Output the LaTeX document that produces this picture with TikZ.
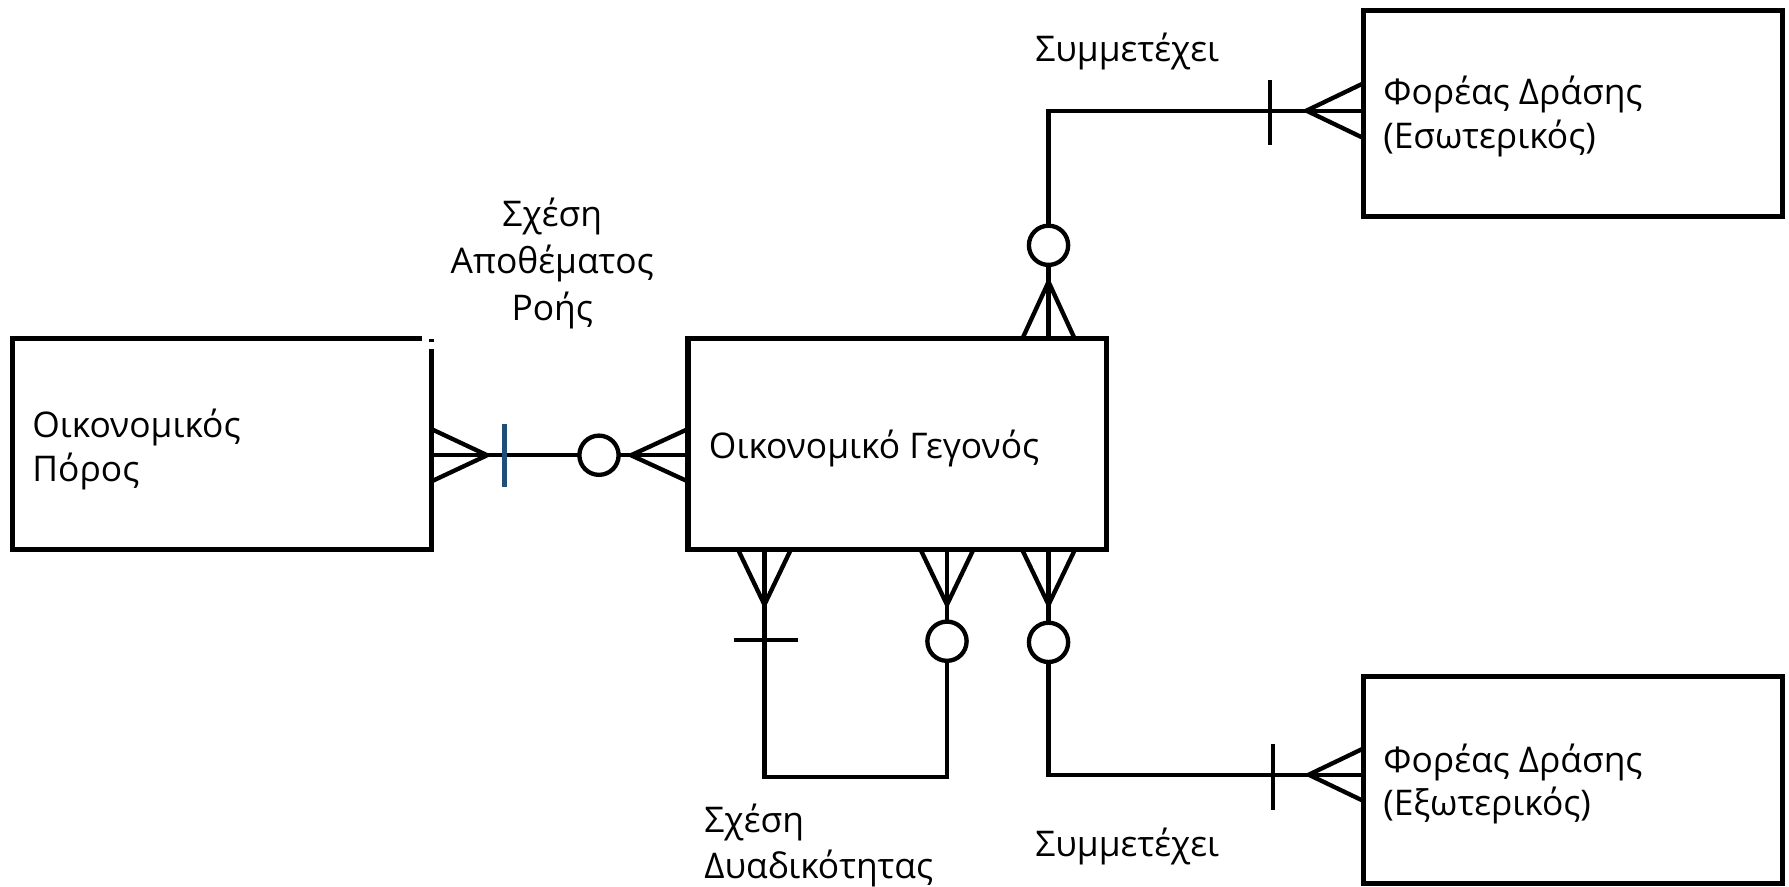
\documentclass[tikz,border=0pt]{standalone}
\usepackage{fontspec}
\setmainfont{Open Sans}
\usetikzlibrary{calc}
\definecolor{barblue}{RGB}{31,78,121}
\begin{document}
\begin{tikzpicture}[x=0.5pt,y=-0.5pt,
  entity/.style={draw, line width=2.2pt, minimum width=183.5pt, minimum height=92.5pt, inner sep=0pt, outer sep=0pt},
  edge/.style={line width=2.2pt, line cap=butt, line join=miter},
  txt/.style={font=\fontsize{15.5}{19}\selectfont, inner sep=0pt, align=left, anchor=west},
  lbl/.style={font=\fontsize{15.5}{20.5}\selectfont, inner sep=0pt},
  conn/.style={line width=1.9pt, line cap=butt, line join=miter},
  ring/.style={line width=1.9pt, fill=white},
  bluebar/.style={line width=2pt, draw=barblue}]
\useasboundingbox (0,0) rectangle (1568,777);

% entities
\node[entity, draw=none] (pool) at (194.5,389.5) {};
\draw[edge] ($(pool.north east)+(-8,0)$) -- (pool.north west) -- (pool.south west) -- (pool.south east) -- ($(pool.north east)+(0,9)$);
\draw[edge] (pool.north east) -- ($(pool.north east)+(0,3)$);
\node[entity] (event) at (786.5,389.5) {};
\node[entity, minimum height=90.5pt] (intA) at (1378.5,99.5) {};
\node[entity, minimum height=90.5pt] (extA) at (1378.5,683.5) {};

\node[txt] (poolT) at (28,394) {Οικονομικός\\Πόρος};
\node[txt] (eventT) at (621,393) {Οικονομικό Γεγονός};
\node[txt] (intAT) at (1212,102) {Φορέας Δράσης\\(Εσωτερικός)};
\node[txt] (extAT) at (1212,687) {Φορέας Δράσης\\(Εξωτερικός)};

% labels
\node[lbl, align=center] (l1) at (484,231) {Σχέση\\Αποθέματος\\Ροής};
\node[lbl] (l2) at (988,45) {Συμμετέχει};
\node[lbl, align=left, anchor=west] (l3) at (617,741) {Σχέση\\Δυαδικότητας};
\node[lbl] (l4) at (988,742) {Συμμετέχει};

% connector 1: pool -- event
\coordinate (p1) at ($(pool.east)+(0,9.5)$);
\coordinate (e1) at ($(event.west)+(0,9.5)$);
\draw[conn] (p1) -- (e1);
\draw[conn] ($(p1)+(0,-23)$) -- ($(p1)+(49,0)$) -- ($(p1)+(0,23)$);
\draw[bluebar] ($(p1)+(64,-27)$) -- ($(p1)+(64,28)$);
\draw[ring] ($(e1)+(-78,0)$) circle[radius=8.6pt];
\draw[conn] ($(e1)+(0,-23)$) -- ($(e1)+(-50,0)$) -- ($(e1)+(0,23)$);

% connector 2: event -- intA
\coordinate (e2) at ($(event.north west)+(316,0)$);
\coordinate (i1) at ($(intA.west)+(0,-2.5)$);
\coordinate (k2) at (e2 |- i1);
\draw[conn] (e2) -- (k2) -- (i1);
\draw[conn] ($(e2)+(-23,0)$) -- ($(e2)+(0,-50)$) -- ($(e2)+(23,0)$);
\draw[ring] ($(e2)+(0,-82)$) circle[radius=8.6pt];
\draw[conn] ($(i1)+(-82,-27)$) -- ($(i1)+(-82,30)$);
\draw[conn] ($(i1)+(0,-24)$) -- ($(i1)+(-50,0)$) -- ($(i1)+(0,24)$);

% connector 3: event -- event (recursive)
\coordinate (e3) at ($(event.south west)+(67,0)$);
\coordinate (e4) at ($(event.south west)+(227,0)$);
\coordinate (k3) at ($(e3)+(0,199)$);
\coordinate (k4) at ($(e4)+(0,199)$);
\draw[conn] (e3) -- (k3) -- (k4) -- (e4);
\draw[conn] ($(e3)+(-23,0)$) -- ($(e3)+(0,48)$) -- ($(e3)+(23,0)$);
\draw[conn] ($(e3)+(-27,79)$) -- ($(e3)+(29,79)$);
\draw[conn] ($(e4)+(-23,0)$) -- ($(e4)+(0,48)$) -- ($(e4)+(23,0)$);
\draw[ring] ($(e4)+(0,80)$) circle[radius=8.6pt];

% connector 4: event -- extA
\coordinate (e5) at ($(event.south west)+(316,0)$);
\coordinate (x1) at ($(extA.west)+(0,-4.5)$);
\coordinate (k5) at (e5 |- x1);
\draw[conn] (e5) -- (k5) -- (x1);
\draw[conn] ($(e5)+(-23,0)$) -- ($(e5)+(0,48)$) -- ($(e5)+(23,0)$);
\draw[ring] ($(e5)+(0,81)$) circle[radius=8.6pt];
\draw[conn] ($(x1)+(-79,-27)$) -- ($(x1)+(-79,31)$);
\draw[conn] ($(x1)+(0,-23)$) -- ($(x1)+(-48,0)$) -- ($(x1)+(0,23)$);
\end{tikzpicture}
\end{document}
